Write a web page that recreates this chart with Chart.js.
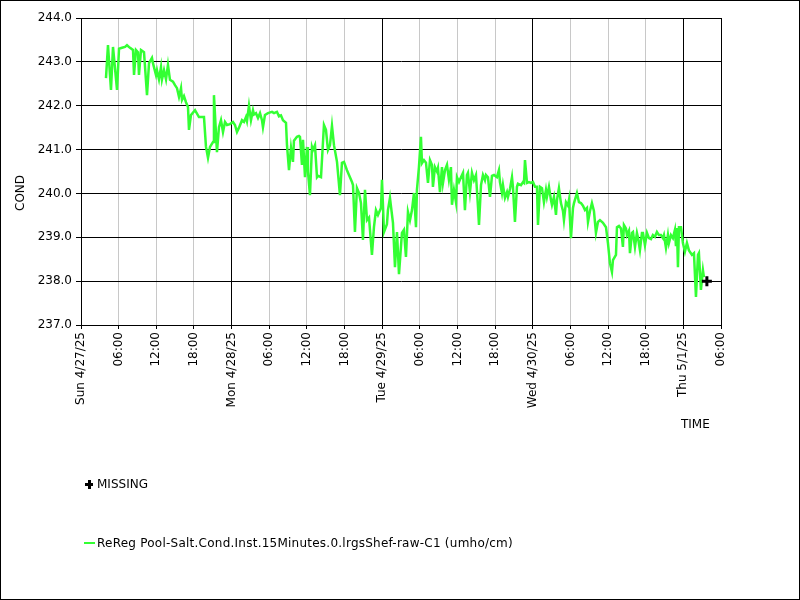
<!DOCTYPE html>
<html>
<head>
<meta charset="utf-8">
<script src="https://cdn.jsdelivr.net/npm/chart.js@4.4.1/dist/chart.umd.min.js"></script>
<style>
  body { margin: 0; background: #fff; font-family: "DejaVu Sans", sans-serif; font-size: 12px; color: #000; }
  #wrap { position: relative; width: 800px; height: 600px; }
  #frame { position: absolute; left: 0; top: 0; width: 800px; height: 600px; box-sizing: border-box; border: 1px solid #000; pointer-events: none; }
  .lbl { position: absolute; white-space: nowrap; line-height: 14px; }
  #condTitle { left: 20px; top: 193px; transform: translate(-50%, -50%) rotate(-90deg); }
  #timeTitle { left: 681px; top: 417px; }
  #legMissing { left: 84px; top: 477px; }
  #legSeries { left: 84px; top: 536px; letter-spacing: 0.24px; }
  .plus { display: inline-block; position: relative; width: 10px; height: 14px; vertical-align: top; margin-right: 3px; }
  .plus:before { content: ""; position: absolute; left: 1px; top: 6px; width: 8px; height: 3px; background: #000; }
  .plus:after { content: ""; position: absolute; left: 4px; top: 3px; width: 3px; height: 9px; background: #000; }
  .dash { display: inline-block; width: 11px; height: 2px; background: #33ff33; vertical-align: middle; margin-right: 2px; position: relative; top: -1px; }
</style>
</head>
<body>
<div id="wrap">
  <canvas id="chart" width="800" height="600"></canvas>
  <div class="lbl" id="condTitle">COND</div>
  <div class="lbl" id="timeTitle">TIME</div>
  <div class="lbl" id="legMissing"><span class="plus"></span>MISSING</div>
  <div class="lbl" id="legSeries"><span class="dash"></span>ReReg Pool-Salt.Cond.Inst.15Minutes.0.lrgsShef-raw-C1 (umho/cm)</div>
  <div id="frame"></div>
</div>
<script>
// Ejes: horas desde Sun 4/27/25 00:00
const dayLabels = ['Sun 4/27/25', 'Mon 4/28/25', 'Tue 4/29/25', 'Wed 4/30/25', 'Thu 5/1/25'];
const hourLabels = ['00:00', '06:00', '12:00', '18:00'];
const yTicks = [237, 238, 239, 240, 241, 242, 243, 244];

// Serie (horas, COND)
const hours = [
  3.98, 4.30, 4.78, 5.10, 5.74, 6.06, 6.53, 7.01, 7.33, 7.81,
  8.29, 8.45, 8.76, 9.08, 9.24, 9.56, 10.04, 10.52, 10.84, 11.31,
  11.47, 11.95, 12.11, 12.43, 12.75, 12.91, 13.23, 13.55, 13.86, 14.18,
  14.66, 14.98, 15.30, 15.62, 15.94, 16.10, 16.41, 16.73, 17.05, 17.21,
  17.53, 18.17, 18.80, 19.60, 19.92, 20.24, 20.56, 21.04, 21.19, 21.67,
  21.99, 22.31, 22.63, 22.95, 23.27, 23.74, 24.22, 24.54, 24.86, 25.18,
  25.66, 25.98, 26.29, 26.45, 26.77, 27.09, 27.41, 27.57, 27.89, 28.21,
  28.53, 28.84, 29.00, 29.32, 29.80, 30.44, 30.76, 31.23, 31.55, 31.87,
  32.19, 32.67, 32.83, 33.15, 33.47, 33.78, 33.94, 34.42, 34.74, 34.90,
  35.22, 35.38, 35.70, 36.02, 36.17, 36.49, 36.81, 36.97, 37.29, 37.61,
  37.77, 38.25, 38.72, 39.04, 39.36, 39.68, 40.00, 40.32, 40.80, 41.27,
  41.59, 41.91, 42.39, 42.71, 43.19, 43.35, 43.66, 43.98, 44.30, 44.62,
  44.94, 45.26, 45.58, 45.90, 46.37, 46.69, 47.01, 47.33, 47.81, 47.97,
  48.29, 48.76, 48.92, 49.24, 49.72, 50.04, 50.36, 50.68, 51.15, 51.47,
  51.79, 52.11, 52.43, 52.75, 53.07, 53.39, 53.54, 53.86, 54.18, 54.34,
  54.66, 54.98, 55.30, 55.62, 55.94, 56.09, 56.41, 56.73, 56.89, 57.21,
  57.53, 57.69, 58.01, 58.33, 58.64, 58.96, 59.12, 59.44, 59.76, 59.92,
  60.24, 60.56, 60.88, 61.19, 61.51, 61.67, 61.99, 62.31, 62.63, 62.95,
  63.27, 63.43, 63.75, 64.06, 64.38, 64.54, 64.86, 65.18, 65.50, 65.82,
  66.29, 66.61, 66.77, 67.09, 67.25, 67.57, 67.89, 68.05, 68.37, 68.69,
  68.84, 69.16, 69.48, 69.64, 70.12, 70.44, 70.60, 70.76, 71.08, 71.39,
  71.71, 72.03, 72.35, 72.67, 72.83, 73.15, 73.47, 73.78, 74.10, 74.26,
  74.58, 74.90, 75.06, 75.38, 75.70, 75.86, 76.17, 76.49, 76.81, 76.97,
  77.29, 77.61, 77.77, 78.09, 78.41, 78.57, 79.04, 79.36, 79.68, 80.00,
  80.32, 80.64, 80.80, 81.12, 81.43, 81.75, 82.07, 82.39, 82.71, 83.19,
  83.67, 83.98, 84.30, 84.62, 84.78, 85.26, 85.42, 85.74, 86.06, 86.37,
  86.53, 86.85, 87.01, 87.33, 87.49, 87.81, 87.97, 88.29, 88.60, 88.76,
  89.08, 89.40, 89.56, 89.88, 90.20, 90.52, 90.84, 91.15, 91.47, 91.79,
  92.11, 92.43, 92.75, 92.91, 93.23, 93.54, 93.70, 94.02, 94.34, 94.66,
  94.82, 94.98, 95.14, 95.30, 95.62, 95.93, 96.25, 96.57, 96.89, 97.37,
  97.69, 98.01, 98.33, 98.48, 98.80, 99.12, 99.28
];
const cond = [
  242.63, 243.38, 242.36, 243.34, 242.36, 243.30, 243.32, 243.34, 243.38, 243.32,
  243.27, 242.70, 243.27, 243.22, 242.70, 243.27, 243.22, 242.24, 242.97, 243.09,
  242.97, 242.70, 242.81, 242.60, 242.88, 242.60, 242.81, 242.60, 242.93, 242.59,
  242.55, 242.47, 242.40, 242.20, 242.40, 242.13, 242.22, 242.08, 241.97, 241.45,
  241.79, 241.90, 241.74, 241.74, 241.06, 240.81, 241.06, 241.17, 242.24, 240.94,
  241.51, 241.67, 241.40, 241.63, 241.56, 241.58, 241.63, 241.56, 241.40, 241.50,
  241.67, 241.63, 241.74, 241.65, 242.00, 241.67, 241.90, 241.80, 241.83, 241.72,
  241.83, 241.67, 241.51, 241.79, 241.83, 241.86, 241.83, 241.86, 241.76, 241.78,
  241.67, 241.61, 241.10, 240.53, 241.04, 240.72, 241.20, 241.29, 241.31, 241.29,
  240.65, 241.22, 240.37, 241.06, 240.50, 239.96, 241.06, 240.99, 241.10, 240.37,
  240.40, 240.37, 241.56, 241.45, 240.99, 241.10, 241.54, 241.10, 240.72, 239.96,
  240.70, 240.72, 240.53, 240.42, 240.26, 240.19, 239.12, 240.12, 240.01, 239.78,
  238.94, 240.08, 239.39, 239.45, 238.60, 239.23, 239.62, 239.51, 239.67, 240.31,
  239.12, 239.30, 239.62, 239.90, 239.33, 238.32, 239.12, 238.16, 239.10, 239.17,
  238.55, 239.58, 239.39, 239.62, 240.01, 239.23, 240.08, 240.60, 241.29, 240.69,
  240.76, 240.70, 240.24, 240.76, 240.65, 240.15, 240.60, 240.50, 240.58, 240.03,
  240.60, 240.24, 240.53, 240.65, 240.31, 240.60, 239.74, 240.08, 239.80, 240.37,
  240.26, 240.37, 240.47, 239.62, 240.42, 240.47, 240.03, 240.47, 240.30, 240.42,
  239.69, 239.28, 240.19, 240.42, 240.30, 240.42, 240.37, 239.92, 240.40, 240.42,
  240.37, 240.53, 240.26, 240.01, 240.19, 239.90, 240.03, 239.92, 240.10, 240.37,
  240.15, 239.35, 240.15, 240.22, 240.19, 240.26, 240.24, 240.76, 240.24, 240.26,
  240.24, 240.26, 240.15, 240.15, 239.28, 240.15, 240.12, 239.80, 240.08, 239.92,
  240.15, 239.85, 239.74, 239.92, 239.51, 239.85, 240.12, 239.78, 239.60, 239.39,
  239.80, 239.72, 239.85, 238.98, 239.67, 239.78, 240.01, 239.80, 239.78, 239.72,
  239.62, 239.67, 239.35, 239.60, 239.78, 239.60, 239.10, 239.35, 239.39, 239.33,
  239.23, 238.87, 238.41, 238.21, 238.48, 238.60, 239.23, 239.26, 239.20, 238.78,
  239.28, 239.20, 239.05, 239.15, 238.64, 239.10, 239.12, 238.78, 239.10, 239.00,
  238.71, 239.10, 239.10, 238.82, 239.10, 238.98, 238.96, 239.05, 239.01, 239.12,
  239.05, 239.05, 238.98, 239.05, 238.76, 239.05, 238.87, 239.05, 238.98, 239.17,
  238.80, 239.21, 238.32, 239.23, 239.23, 238.87, 238.67, 238.87, 238.70, 238.60,
  238.64, 237.64, 238.60, 238.64, 237.80, 238.25, 238.09
];

// Punto MISSING
const missingHours = [99.75];
const missingCond = [238.0];

const xMin = 0, xMax = 102;

// Marco negro del área de trazado
const framePlugin = {
  id: 'frame',
  afterDraw(chart) {
    const a = chart.chartArea;
    const ctx = chart.ctx;
    ctx.save();
    ctx.strokeStyle = '#000';
    ctx.lineWidth = 1;
    ctx.strokeRect(Math.round(a.left) + 0.5, Math.round(a.top) + 0.5,
      Math.round(a.right - a.left), Math.round(a.bottom - a.top));
    ctx.restore();
  }
};

Chart.defaults.font.family = '"DejaVu Sans", sans-serif';
Chart.defaults.font.size = 12;
Chart.defaults.color = '#000';

const ctx = document.getElementById('chart').getContext('2d');
new Chart(ctx, {
  type: 'line',
  data: {
    datasets: [
      {
        label: 'MISSING',
        data: missingHours.map((h, i) => ({ x: h, y: missingCond[i] })),
        showLine: false,
        pointStyle: 'cross',
        pointRadius: 5,
        pointBorderWidth: 3,
        borderColor: '#000',
        backgroundColor: '#000'
      },
      {
        label: 'ReReg Pool-Salt.Cond.Inst.15Minutes.0.lrgsShef-raw-C1 (umho/cm)',
        data: hours.map((h, i) => ({ x: h, y: cond[i] })),
        borderColor: '#33ff33',
        borderWidth: 2.5,
        pointRadius: 0,
        tension: 0,
        fill: false
      }
    ]
  },
  options: {
    responsive: false,
    animation: false,
    layout: { padding: { left: 0, right: 79, top: 18, bottom: 175 } },
    plugins: { legend: { display: false }, tooltip: { enabled: false } },
    scales: {
      x: {
        type: 'linear',
        min: xMin,
        max: xMax,
        afterFit(scale) { scale.height = 100; },
        afterBuildTicks(scale) {
          const t = [];
          for (let v = xMin; v <= xMax; v += 6) t.push({ value: v });
          scale.ticks = t;
        },
        ticks: {
          autoSkip: false,
          minRotation: 90,
          maxRotation: 90,
          padding: 3,
          callback(v) {
            if (v % 24 === 0) return dayLabels[v / 24];
            return hourLabels[(v % 24) / 6];
          }
        },
        grid: {
          color: c => (c.tick && c.tick.value % 24 === 0) ? '#000' : '#c8c8c8',
          tickColor: '#000',
          tickLength: 4
        },
        border: { color: '#000' }
      },
      y: {
        min: yTicks[0],
        max: yTicks[yTicks.length - 1],
        afterFit(scale) { scale.width = 81; },
        afterBuildTicks(scale) { scale.ticks = yTicks.map(v => ({ value: v })); },
        ticks: { padding: 4, callback: v => v.toFixed(1) },
        grid: { color: '#000', tickColor: '#000', tickLength: 5 },
        border: { color: '#000' }
      }
    }
  },
  plugins: [framePlugin]
});
</script>
</body>
</html>
